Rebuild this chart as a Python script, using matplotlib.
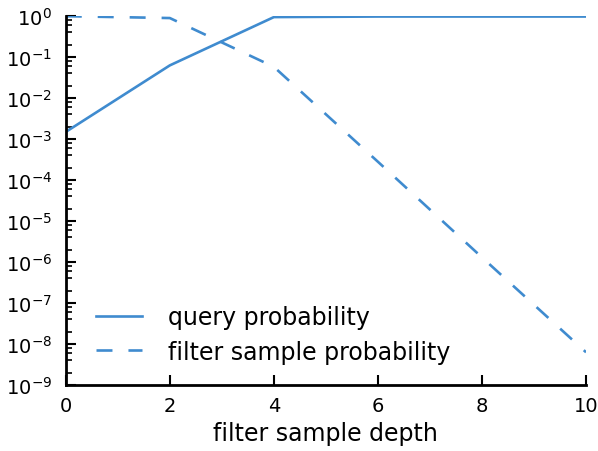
import matplotlib
matplotlib.use("Agg")
import matplotlib.pyplot as plt
from matplotlib.ticker import LogLocator, NullFormatter

# values
depth = [0, 2, 4, 6, 8, 10]
query_prob = [1.5e-3, 0.063, 0.95, 0.98, 0.98, 0.98]
filter_prob = [1.0, 0.9, 0.058, 2.8e-4, 1.3e-6, 6.3e-9]

color = "#3f8bcf"

plt.rcParams["lines.scale_dashes"] = False
fig = plt.figure(figsize=(5.98, 4.52), dpi=100)
ax = fig.add_axes([0.110, 0.146, 0.870, 0.816])

ax.plot(depth, query_prob, color=color, lw=1.9, label="query probability")
ax.plot(depth, filter_prob, color=color, lw=1.9, dashes=(11.5, 11.5),
        label="filter sample probability")

ax.set_yscale("log")
ax.set_xlim(0, 10)
ax.set_ylim(1e-9, 1e0)
ax.set_xticks([0, 2, 4, 6, 8, 10])
ax.yaxis.set_major_locator(LogLocator(base=10, numticks=20))
ax.yaxis.set_minor_locator(LogLocator(base=10, subs=[2, 4, 6, 8], numticks=20))
ax.yaxis.set_minor_formatter(NullFormatter())

for side in ["top", "right"]:
    ax.spines[side].set_visible(False)
for side in ["left", "bottom"]:
    ax.spines[side].set_linewidth(2.0)

ax.tick_params(which="major", direction="in", length=7, width=1.5, labelsize=14)
ax.tick_params(axis="x", pad=8)
ax.tick_params(axis="y", pad=10)
ax.tick_params(which="minor", direction="in", length=4, width=1.2)

ax.set_xlabel("filter sample depth", fontsize=17, labelpad=4)
ax.legend(loc="lower left", frameon=False, fontsize=17, handlelength=1.95,
          handletextpad=1.1, labelspacing=0.45, borderaxespad=0,
          bbox_to_anchor=(0.04, 0.032))

fig.savefig("out.png", dpi=100)
